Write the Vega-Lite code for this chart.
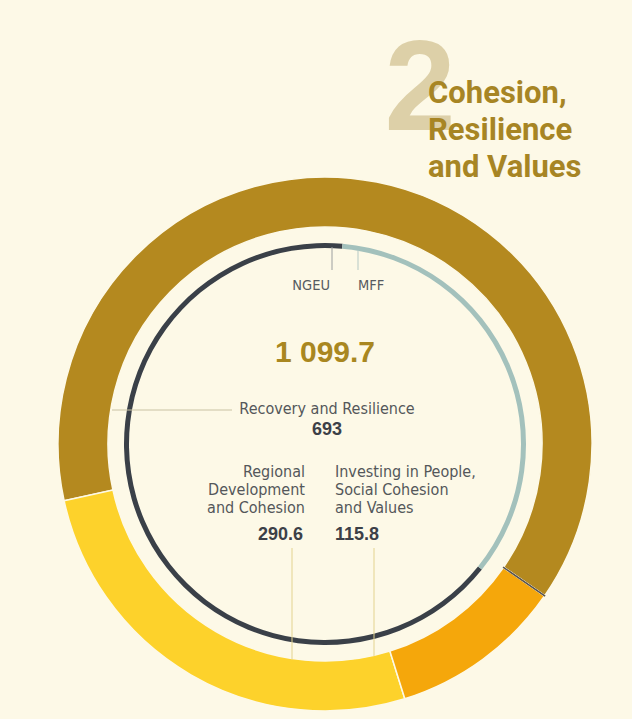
{
"$schema": "https://vega.github.io/schema/vega-lite/v6.json",
"width": 632, "height": 719,
"autosize": {"type": "fit", "contains": "padding"},
"padding": 0,
"background": "#fdf9e7",
"config": {"view": {"stroke": null}, "locale": {"number": {"decimal": ".", "thousands": " ", "grouping": [3], "currency": ["", ""]}}},
"datasets": {
 "heading": [
  {"programme": "Recovery and Resilience", "label": "Recovery and Resilience", "value": 693},
  {"programme": "Regional Development and Cohesion", "label": "Regional\nDevelopment\nand Cohesion", "value": 290.6},
  {"programme": "Investing in People, Social Cohesion and Values", "label": "Investing in People,\nSocial Cohesion\nand Values", "value": 115.8},
  {"programme": "Other", "label": "", "value": 0.3}
 ],
 "source": [{"source": "NGEU", "value": 721.9}, {"source": "MFF", "value": 377.8}],
 "title": [{"number": "2", "name": "Cohesion,\nResilience\nand Values"}]
},
"resolve": {"scale": {"color": "independent", "theta": "independent"}},
"layer": [
 {"data": {"name": "heading"},
  "transform": [{"stack": "value", "groupby": [], "sort": [{"field": "value", "order": "ascending"}], "as": ["v0", "v1"]}],
  "mark": {"type": "arc", "radius": 267, "radius2": 217, "stroke": "#fdf9e7", "strokeWidth": 1.5},
  "encoding": {
   "x": {"datum": 0, "type": "quantitative", "scale": {"domain": [-325, 307], "nice": false, "zero": false}, "axis": null},
   "y": {"datum": 0, "type": "quantitative", "scale": {"domain": [-275, 444], "nice": false, "zero": false}, "axis": null},
   "theta": {"field": "v0", "type": "quantitative", "stack": null, "scale": {"domain": [0, 1099.7], "range": [2.1747, 8.4579], "zero": false, "nice": false}},
   "theta2": {"field": "v1"},
   "color": {"field": "programme", "type": "nominal", "legend": null,
    "scale": {"domain": ["Recovery and Resilience", "Regional Development and Cohesion", "Investing in People, Social Cohesion and Values", "Other"], "range": ["#b4891f", "#fdd22b", "#f5a70b", "#5b554d"]}}
  }},
 {"data": {"name": "heading"},
  "transform": [{"stack": "value", "groupby": [], "sort": [{"field": "value", "order": "ascending"}], "as": ["v0", "v1"]}, {"filter": "datum.programme === 'Other'"}],
  "mark": {"type": "arc", "radius": 267, "radius2": 217, "fill": "#5b554d", "stroke": "#5b554d", "strokeWidth": 1.2},
  "encoding": {
   "x": {"datum": 0, "type": "quantitative", "scale": {"domain": [-325, 307], "nice": false, "zero": false}, "axis": null},
   "y": {"datum": 0, "type": "quantitative", "scale": {"domain": [-275, 444], "nice": false, "zero": false}, "axis": null},
   "theta": {"field": "v0", "type": "quantitative", "stack": null, "scale": {"domain": [0, 1099.7], "range": [2.1747, 8.4579], "zero": false, "nice": false}},
   "theta2": {"field": "v1"}
  }},
 {"data": {"name": "source"},
  "transform": [{"stack": "value", "groupby": [], "sort": [{"field": "value", "order": "ascending"}], "as": ["v0", "v1"]}],
  "mark": {"type": "arc", "radius": 201, "radius2": 196},
  "encoding": {
   "x": {"datum": 0, "type": "quantitative", "scale": {"domain": [-325, 307], "nice": false, "zero": false}, "axis": null},
   "y": {"datum": 0, "type": "quantitative", "scale": {"domain": [-275, 444], "nice": false, "zero": false}, "axis": null},
   "theta": {"field": "v0", "type": "quantitative", "stack": null, "scale": {"domain": [0, 1099.7], "range": [0.0873, 6.3705], "zero": false, "nice": false}},
   "theta2": {"field": "v1"},
   "color": {"field": "source", "type": "nominal", "legend": null, "scale": {"domain": ["NGEU", "MFF"], "range": ["#3a4048", "#a3c1bc"]}}
  }},
 {"data": {"name": "heading"},
  "transform": [{"filter": "datum.programme === 'Recovery and Resilience'"}],
  "mark": {"type": "rule", "color": "#c9c2a3", "strokeWidth": 1},
  "encoding": {
   "x": {"datum": -213, "type": "quantitative", "scale": {"domain": [-325, 307], "nice": false, "zero": false}, "axis": null},
   "x2": {"datum": -93},
   "y": {"datum": 34, "type": "quantitative", "scale": {"domain": [-275, 444], "nice": false, "zero": false}, "axis": null},
   "y2": {"datum": 34}
  }},
 {"data": {"name": "heading"},
  "transform": [{"filter": "datum.programme === 'Regional Development and Cohesion'"}],
  "mark": {"type": "rule", "color": "#e3d38f", "strokeWidth": 1},
  "encoding": {
   "x": {"datum": -33, "type": "quantitative", "scale": {"domain": [-325, 307], "nice": false, "zero": false}, "axis": null},
   "x2": {"datum": -33},
   "y": {"datum": -104, "type": "quantitative", "scale": {"domain": [-275, 444], "nice": false, "zero": false}, "axis": null},
   "y2": {"datum": -216}
  }},
 {"data": {"name": "heading"},
  "transform": [{"filter": "datum.programme === 'Investing in People, Social Cohesion and Values'"}],
  "mark": {"type": "rule", "color": "#e3d38f", "strokeWidth": 1},
  "encoding": {
   "x": {"datum": 49, "type": "quantitative", "scale": {"domain": [-325, 307], "nice": false, "zero": false}, "axis": null},
   "x2": {"datum": 49},
   "y": {"datum": -104, "type": "quantitative", "scale": {"domain": [-275, 444], "nice": false, "zero": false}, "axis": null},
   "y2": {"datum": -212}
  }},
 {"data": {"name": "source"},
  "transform": [{"filter": "datum.source === 'NGEU'"}],
  "mark": {"type": "rule", "color": "#9c9f9f", "strokeWidth": 1},
  "encoding": {
   "x": {"datum": 7, "type": "quantitative", "scale": {"domain": [-325, 307], "nice": false, "zero": false}, "axis": null},
   "x2": {"datum": 7},
   "y": {"datum": 197, "type": "quantitative", "scale": {"domain": [-275, 444], "nice": false, "zero": false}, "axis": null},
   "y2": {"datum": 174}
  }},
 {"data": {"name": "source"},
  "transform": [{"filter": "datum.source === 'MFF'"}],
  "mark": {"type": "rule", "color": "#b5c9c5", "strokeWidth": 1},
  "encoding": {
   "x": {"datum": 33, "type": "quantitative", "scale": {"domain": [-325, 307], "nice": false, "zero": false}, "axis": null},
   "x2": {"datum": 33},
   "y": {"datum": 194, "type": "quantitative", "scale": {"domain": [-275, 444], "nice": false, "zero": false}, "axis": null},
   "y2": {"datum": 174}
  }},
 {"data": {"name": "source"},
  "transform": [{"filter": "datum.source === 'NGEU'"}],
  "mark": {"type": "text", "align": "right", "baseline": "alphabetic", "font": "DejaVu Sans Condensed, sans-serif", "fontSize": 14.5, "color": "#565b60"},
  "encoding": {
   "x": {"datum": 5, "type": "quantitative", "scale": {"domain": [-325, 307], "nice": false, "zero": false}, "axis": null},
   "y": {"datum": 154, "type": "quantitative", "scale": {"domain": [-275, 444], "nice": false, "zero": false}, "axis": null},
   "text": {"field": "source"}
  }},
 {"data": {"name": "source"},
  "transform": [{"filter": "datum.source === 'MFF'"}],
  "mark": {"type": "text", "align": "left", "baseline": "alphabetic", "font": "DejaVu Sans Condensed, sans-serif", "fontSize": 14.5, "color": "#565b60"},
  "encoding": {
   "x": {"datum": 33, "type": "quantitative", "scale": {"domain": [-325, 307], "nice": false, "zero": false}, "axis": null},
   "y": {"datum": 154, "type": "quantitative", "scale": {"domain": [-275, 444], "nice": false, "zero": false}, "axis": null},
   "text": {"field": "source"}
  }},
 {"data": {"name": "heading"},
  "transform": [{"aggregate": [{"op": "sum", "field": "value", "as": "total"}]}],
  "mark": {"type": "text", "align": "center", "baseline": "alphabetic", "font": "Liberation Sans, Arial, sans-serif", "fontWeight": "bold", "fontSize": 30, "color": "#a98720"},
  "encoding": {
   "x": {"datum": 0, "type": "quantitative", "scale": {"domain": [-325, 307], "nice": false, "zero": false}, "axis": null},
   "y": {"datum": 82, "type": "quantitative", "scale": {"domain": [-275, 444], "nice": false, "zero": false}, "axis": null},
   "text": {"field": "total", "type": "quantitative", "format": ",.1f"}
  }},
 {"data": {"name": "heading"},
  "transform": [{"filter": "datum.programme === 'Recovery and Resilience'"}],
  "mark": {"type": "text", "align": "center", "baseline": "alphabetic", "font": "DejaVu Sans Condensed, sans-serif", "fontSize": 16, "color": "#54575a"},
  "encoding": {
   "x": {"datum": 2, "type": "quantitative", "scale": {"domain": [-325, 307], "nice": false, "zero": false}, "axis": null},
   "y": {"datum": 30, "type": "quantitative", "scale": {"domain": [-275, 444], "nice": false, "zero": false}, "axis": null},
   "text": {"field": "label"}
  }},
 {"data": {"name": "heading"},
  "transform": [{"filter": "datum.programme === 'Recovery and Resilience'"}],
  "mark": {"type": "text", "align": "center", "baseline": "alphabetic", "font": "Liberation Sans, Arial, sans-serif", "fontWeight": "bold", "fontSize": 18, "color": "#3c4047"},
  "encoding": {
   "x": {"datum": 2, "type": "quantitative", "scale": {"domain": [-325, 307], "nice": false, "zero": false}, "axis": null},
   "y": {"datum": 9, "type": "quantitative", "scale": {"domain": [-275, 444], "nice": false, "zero": false}, "axis": null},
   "text": {"field": "value", "type": "quantitative", "format": ".4~"}
  }},
 {"data": {"name": "heading"},
  "transform": [{"filter": "datum.programme === 'Regional Development and Cohesion'"}],
  "mark": {"type": "text", "align": "right", "baseline": "alphabetic", "lineBreak": "\n", "lineHeight": 18, "font": "DejaVu Sans Condensed, sans-serif", "fontSize": 16, "color": "#54575a"},
  "encoding": {
   "x": {"datum": -20, "type": "quantitative", "scale": {"domain": [-325, 307], "nice": false, "zero": false}, "axis": null},
   "y": {"datum": -33, "type": "quantitative", "scale": {"domain": [-275, 444], "nice": false, "zero": false}, "axis": null},
   "text": {"field": "label"}
  }},
 {"data": {"name": "heading"},
  "transform": [{"filter": "datum.programme === 'Regional Development and Cohesion'"}],
  "mark": {"type": "text", "align": "right", "baseline": "alphabetic", "font": "Liberation Sans, Arial, sans-serif", "fontWeight": "bold", "fontSize": 18, "color": "#3c4047"},
  "encoding": {
   "x": {"datum": -22, "type": "quantitative", "scale": {"domain": [-325, 307], "nice": false, "zero": false}, "axis": null},
   "y": {"datum": -96, "type": "quantitative", "scale": {"domain": [-275, 444], "nice": false, "zero": false}, "axis": null},
   "text": {"field": "value", "type": "quantitative", "format": ".1f"}
  }},
 {"data": {"name": "heading"},
  "transform": [{"filter": "datum.programme === 'Investing in People, Social Cohesion and Values'"}],
  "mark": {"type": "text", "align": "left", "baseline": "alphabetic", "lineBreak": "\n", "lineHeight": 18, "font": "DejaVu Sans Condensed, sans-serif", "fontSize": 16, "color": "#54575a"},
  "encoding": {
   "x": {"datum": 10, "type": "quantitative", "scale": {"domain": [-325, 307], "nice": false, "zero": false}, "axis": null},
   "y": {"datum": -33, "type": "quantitative", "scale": {"domain": [-275, 444], "nice": false, "zero": false}, "axis": null},
   "text": {"field": "label"}
  }},
 {"data": {"name": "heading"},
  "transform": [{"filter": "datum.programme === 'Investing in People, Social Cohesion and Values'"}],
  "mark": {"type": "text", "align": "left", "baseline": "alphabetic", "font": "Liberation Sans, Arial, sans-serif", "fontWeight": "bold", "fontSize": 18, "color": "#3c4047"},
  "encoding": {
   "x": {"datum": 10, "type": "quantitative", "scale": {"domain": [-325, 307], "nice": false, "zero": false}, "axis": null},
   "y": {"datum": -96, "type": "quantitative", "scale": {"domain": [-275, 444], "nice": false, "zero": false}, "axis": null},
   "text": {"field": "value", "type": "quantitative", "format": ".1f"}
  }},
 {"data": {"name": "title"},
  "mark": {"type": "text", "align": "center", "baseline": "alphabetic", "font": "Liberation Sans, Arial, sans-serif", "fontWeight": "bold", "fontSize": 128, "color": "#ddd0a8"},
  "encoding": {
   "x": {"datum": 95, "type": "quantitative", "scale": {"domain": [-325, 307], "nice": false, "zero": false}, "axis": null},
   "y": {"datum": 314, "type": "quantitative", "scale": {"domain": [-275, 444], "nice": false, "zero": false}, "axis": null},
   "text": {"field": "number"}
  }},
 {"data": {"name": "title"},
  "mark": {"type": "text", "align": "left", "baseline": "alphabetic", "lineBreak": "\n", "lineHeight": 37, "font": "Roboto, sans-serif", "fontWeight": "bold", "fontSize": 31, "color": "#a78524"},
  "encoding": {
   "x": {"datum": 103, "type": "quantitative", "scale": {"domain": [-325, 307], "nice": false, "zero": false}, "axis": null},
   "y": {"datum": 341, "type": "quantitative", "scale": {"domain": [-275, 444], "nice": false, "zero": false}, "axis": null},
   "text": {"field": "name"}
  }}
]
}
